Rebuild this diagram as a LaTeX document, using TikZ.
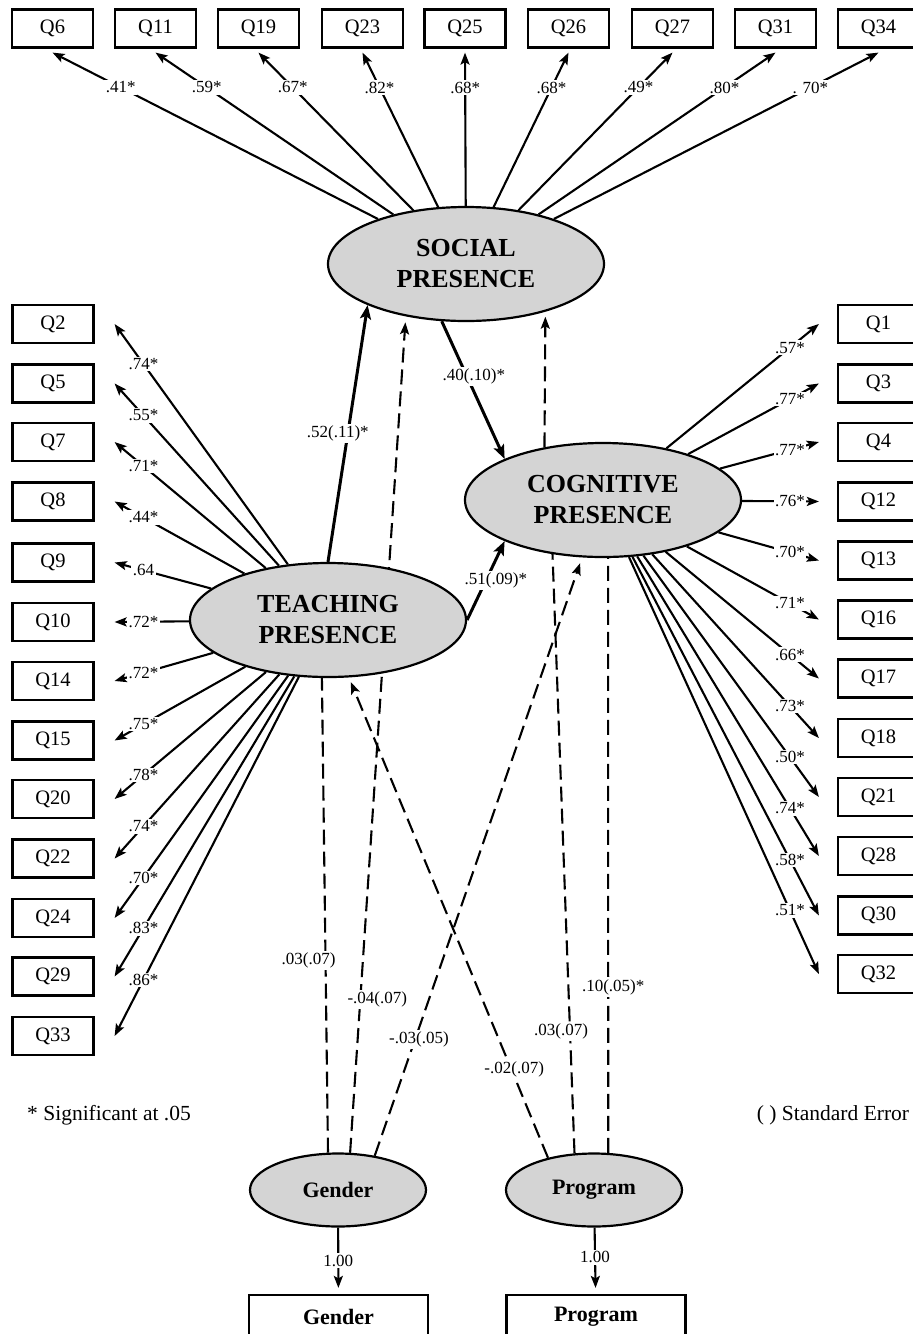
\documentclass[tikz,border=0pt]{standalone}
\usepackage{fontspec}
\setmainfont{Liberation Serif}
\usepackage{xcolor}
\usepackage{tikz}
\usetikzlibrary{arrows.meta}
\usetikzlibrary{shapes.geometric}
\usetikzlibrary{calc}
\usetikzlibrary{backgrounds}
\definecolor{latentgray}{RGB}{212,212,212}

\begin{document}
\begin{tikzpicture}[x=1pt, y=-1pt,
  >={Stealth[length=12pt,width=9pt,inset=2.5pt]},
  obs/.style={draw, line width=2.2pt, minimum width=81pt, minimum height=38pt, inner sep=0pt, font=\fontsize{20.5}{24}\selectfont},
  latent/.style={ellipse, draw, line width=2.2pt, fill=latentgray, minimum width=276pt, minimum height=114pt, inner sep=0pt, align=center, font=\bfseries\fontsize{26}{31}\selectfont},
  covar/.style={ellipse, draw, line width=2.2pt, fill=latentgray, minimum width=176pt, minimum height=73pt, inner sep=0pt, font=\bfseries\fontsize{22}{26}\selectfont},
  covbox/.style={draw, line width=2.2pt, minimum width=179pt, minimum height=44pt, inner sep=0pt, font=\bfseries\fontsize{22}{26}\selectfont},
  coef/.style={fill=white, inner sep=1.5pt, font=\fontsize{17}{20}\selectfont},
  legend/.style={inner sep=0pt, font=\fontsize{21.5}{26}\selectfont},
  loading/.style={->, line width=2.1pt},
  effect/.style={->, line width=3pt, >={Stealth[length=14pt,width=11pt,inset=3pt]}},
  nopath/.style={line width=2.1pt, dash pattern=on 15pt off 7pt}]

\useasboundingbox (0,0) rectangle (913,1334);

% Latent factors
\node[latent] (soc) at (466,264) {SOCIAL\\PRESENCE};
\node[latent] (cog) at (603,500) {COGNITIVE\\PRESENCE};
\node[latent] (tp) at (328,620) {TEACHING\\PRESENCE};

% Covariates
\node[covar] (gen) at (338,1190) {Gender};
\node[covar] (prog) at (594,1190) {Program};
\node[covbox] (genbox) at (338.5,1317) {Gender};
\node[covbox] (progbox) at (596,1317) {Program};

% Social presence items (top row)
\node[obs] (q6) at (52.5,28.5) {Q6};
\node[obs] (q11) at (155.5,28.5) {Q11};
\node[obs] (q19) at (258.5,28.5) {Q19};
\node[obs] (q23) at (362.5,28.5) {Q23};
\node[obs] (q25) at (465,28.5) {Q25};
\node[obs] (q26) at (568.5,28.5) {Q26};
\node[obs] (q27) at (672.5,28.5) {Q27};
\node[obs] (q31) at (775.5,28.5) {Q31};
\node[obs] (q34) at (878.5,28.5) {Q34};

% Teaching presence items (left column)
\node[obs] (q2) at (53,324) {Q2};
\node[obs] (q5) at (53,383.5) {Q5};
\node[obs] (q7) at (53,442) {Q7};
\node[obs] (q8) at (53,501.5) {Q8};
\node[obs] (q9) at (53,562.5) {Q9};
\node[obs] (q10) at (53,622) {Q10};
\node[obs] (q14) at (53,681) {Q14};
\node[obs] (q15) at (53,740.5) {Q15};
\node[obs] (q20) at (53,799) {Q20};
\node[obs] (q22) at (53,858.5) {Q22};
\node[obs] (q24) at (53,918) {Q24};
\node[obs] (q29) at (53,976.5) {Q29};
\node[obs] (q33) at (53,1036) {Q33};

% Cognitive presence items (right column)
\node[obs] (q1) at (878.5,324) {Q1};
\node[obs] (q3) at (878.5,383.5) {Q3};
\node[obs] (q4) at (878.5,442) {Q4};
\node[obs] (q12) at (878.5,501.5) {Q12};
\node[obs] (q13) at (878.5,560.5) {Q13};
\node[obs] (q16) at (878.5,619.5) {Q16};
\node[obs] (q17) at (878.5,678.5) {Q17};
\node[obs] (q18) at (878.5,738) {Q18};
\node[obs] (q21) at (878.5,797) {Q21};
\node[obs] (q28) at (878.5,856) {Q28};
\node[obs] (q30) at (878.5,915.5) {Q30};
\node[obs] (q32) at (878.5,974) {Q32};

% Arrow ends in front of the items
\coordinate (s6) at ([yshift=-4pt]q6.south);
\coordinate (s11) at ([yshift=-4pt]q11.south);
\coordinate (s19) at ([yshift=-4pt]q19.south);
\coordinate (s23) at ([yshift=-4pt]q23.south);
\coordinate (s25) at ([yshift=-4pt]q25.south);
\coordinate (s26) at ([yshift=-4pt]q26.south);
\coordinate (s27) at ([yshift=-4pt]q27.south);
\coordinate (s31) at ([yshift=-4pt]q31.south);
\coordinate (s34) at ([yshift=-4pt]q34.south);
\coordinate (w2) at ([xshift=20pt]q2.east);
\coordinate (w5) at ([xshift=20pt]q5.east);
\coordinate (w7) at ([xshift=20pt]q7.east);
\coordinate (w8) at ([xshift=20pt]q8.east);
\coordinate (w9) at ([xshift=20pt]q9.east);
\coordinate (w10) at ([xshift=20pt]q10.east);
\coordinate (w14) at ([xshift=20pt]q14.east);
\coordinate (w15) at ([xshift=20pt]q15.east);
\coordinate (w20) at ([xshift=20pt]q20.east);
\coordinate (w22) at ([xshift=20pt]q22.east);
\coordinate (w24) at ([xshift=20pt]q24.east);
\coordinate (w29) at ([xshift=20pt]q29.east);
\coordinate (w33) at ([xshift=20pt]q33.east);
\coordinate (e1) at ([xshift=-18pt]q1.west);
\coordinate (e3) at ([xshift=-18pt]q3.west);
\coordinate (e4) at ([xshift=-18pt]q4.west);
\coordinate (e12) at ([xshift=-18pt]q12.west);
\coordinate (e13) at ([xshift=-18pt]q13.west);
\coordinate (e16) at ([xshift=-18pt]q16.west);
\coordinate (e17) at ([xshift=-18pt]q17.west);
\coordinate (e18) at ([xshift=-18pt]q18.west);
\coordinate (e21) at ([xshift=-18pt]q21.west);
\coordinate (e28) at ([xshift=-18pt]q28.west);
\coordinate (e30) at ([xshift=-18pt]q30.west);
\coordinate (e32) at ([xshift=-18pt]q32.west);

% Social presence loadings
\draw[loading] (soc) -- (s6);   \node[coef] (c6) at ($(s6)!.165!(soc.center)$) {.41*};
\draw[loading] (soc) -- (s11);  \node[coef] (c11) at ($(s11)!.165!(soc.center)$) {.59*};
\draw[loading] (soc) -- (s19);  \node[coef] (c19) at ($(s19)!.165!(soc.center)$) {.67*};
\draw[loading] (soc) -- (s23);  \node[coef] (c23) at ($(s23)!.165!(soc.center)$) {.82*};
\draw[loading] (soc) -- (s25);  \node[coef] (c25) at ($(s25)!.165!(soc.center)$) {.68*};
\draw[loading] (soc) -- (s26);  \node[coef] (c26) at ($(s26)!.165!(soc.center)$) {.68*};
\draw[loading] (soc) -- (s27);  \node[coef] (c27) at ($(s27)!.165!(soc.center)$) {.49*};
\draw[loading] (soc) -- (s31);  \node[coef] (c31) at ($(s31)!.165!(soc.center)$) {.80*};
\draw[loading] (soc) -- (s34);  \node[coef] (c34) at ($(s34)!.165!(soc.center)$) {. 70*};

% Teaching presence loadings
\draw[loading] (tp) -- (w2);   \node[coef] (c2) at ($(w2)!.135!(tp.center)$) {.74*};
\draw[loading] (tp) -- (w5);   \node[coef] (c5) at ($(w5)!.135!(tp.center)$) {.55*};
\draw[loading] (tp) -- (w7);   \node[coef] (c7) at ($(w7)!.135!(tp.center)$) {.71*};
\draw[loading] (tp) -- (w8);   \node[coef] (c8) at ($(w8)!.135!(tp.center)$) {.44*};
\draw[loading] (tp) -- (w9);   \node[coef] (c9) at ($(w9)!.135!(tp.center)$) {.64};
\draw[loading] (tp) -- (w10);  \node[coef] (c10) at ($(w10)!.135!(tp.center)$) {.72*};
\draw[loading] (tp) -- (w14);  \node[coef] (c14) at ($(w14)!.135!(tp.center)$) {.72*};
\draw[loading] (tp) -- (w15);  \node[coef] (c15) at ($(w15)!.135!(tp.center)$) {.75*};
\draw[loading] (tp) -- (w20);  \node[coef] (c20) at ($(w20)!.135!(tp.center)$) {.78*};
\draw[loading] (tp) -- (w22);  \node[coef] (c22) at ($(w22)!.135!(tp.center)$) {.74*};
\draw[loading] (tp) -- (w24);  \node[coef] (c24) at ($(w24)!.135!(tp.center)$) {.70*};
\draw[loading] (tp) -- (w29);  \node[coef] (c29) at ($(w29)!.135!(tp.center)$) {.83*};
\draw[loading] (tp) -- (w33);  \node[coef] (c33) at ($(w33)!.135!(tp.center)$) {.86*};

% Cognitive presence loadings
\draw[loading] (cog) -- (e1);   \node[coef] (c1) at ($(e1)!.134!(cog.center)$) {.57*};
\draw[loading] (cog) -- (e3);   \node[coef] (c3) at ($(e3)!.134!(cog.center)$) {.77*};
\draw[loading] (cog) -- (e4);   \node[coef] (c4) at ($(e4)!.134!(cog.center)$) {.77*};
\draw[loading] (cog) -- (e12);  \node[coef] (c12) at ($(e12)!.134!(cog.center)$) {.76*};
\draw[loading] (cog) -- (e13);  \node[coef] (c13) at ($(e13)!.134!(cog.center)$) {.70*};
\draw[loading] (cog) -- (e16);  \node[coef] (c16) at ($(e16)!.134!(cog.center)$) {.71*};
\draw[loading] (cog) -- (e17);  \node[coef] (c17) at ($(e17)!.134!(cog.center)$) {.66*};
\draw[loading] (cog) -- (e18);  \node[coef] (c18) at ($(e18)!.134!(cog.center)$) {.73*};
\draw[loading] (cog) -- (e21);  \node[coef] (c21) at ($(e21)!.134!(cog.center)$) {.50*};
\draw[loading] (cog) -- (e28);  \node[coef] (c28) at ($(e28)!.134!(cog.center)$) {.74*};
\draw[loading] (cog) -- (e30);  \node[coef] (c30) at ($(e30)!.134!(cog.center)$) {.58*};
\draw[loading] (cog) -- (e32);  \node[coef] (c32) at ($(e32)!.134!(cog.center)$) {.51*};

% Structural paths
\draw[effect] (tp.north) -- (soc.south west) node[coef, pos=.5, xshift=-10pt] (b1) {.52(.11)*};
\draw[effect] (soc.247) -- (cog.north west) node[coef, pos=.4, xshift=7pt] (b2) {.40(.10)*};
\draw[effect] (tp.east) -- (cog.south west) node[coef, pos=.5, xshift=10pt] (b3) {.51(.09)*};

% Non-significant paths (behind the ellipses)
\begin{scope}[on background layer]
\draw[nopath, ->, shorten >=5pt] (cog.138) -- (soc.-31);
\draw[nopath] (gen.105) -- (tp.-96) node[coef, pos=.405, xshift=-17pt] (d1) {.03(.07)};
\draw[nopath, ->, shorten >=6pt] (gen.72) -- (soc.221) node[coef, pos=.183, xshift=17pt] (d2) {-.04(.07)};
\draw[nopath, ->, shorten >=6pt] (gen.43) -- (cog.250) node[coef, pos=.194, xshift=4pt] (d3) {-.03(.05)};
\draw[nopath, ->, shorten >=5pt] (prog.145) -- (tp.-70) node[coef, pos=.185, xshift=3pt] (d4) {-.02(.07)};
\draw[nopath] (prog.118) -- (cog.227) node[coef, pos=.203, xshift=-9pt] (d5) {.03(.07)};
\draw[nopath] (prog.69) -- (cog.-85) node[coef, pos=.278, xshift=5pt] (d6) {.10(.05)*};
\end{scope}

% Covariate indicators
\draw[loading, shorten >=6pt] (gen) -- (genbox) node[coef, pos=.5] (f1) {1.00};
\draw[loading, shorten >=6pt] (prog) -- (progbox) node[coef, pos=.45] (f2) {1.00};

% Legend
\node[legend] (sig) at (109,1115) {* Significant at .05};
\node[legend] (se) at (833,1115) {( ) Standard Error};

\end{tikzpicture}
\end{document}
